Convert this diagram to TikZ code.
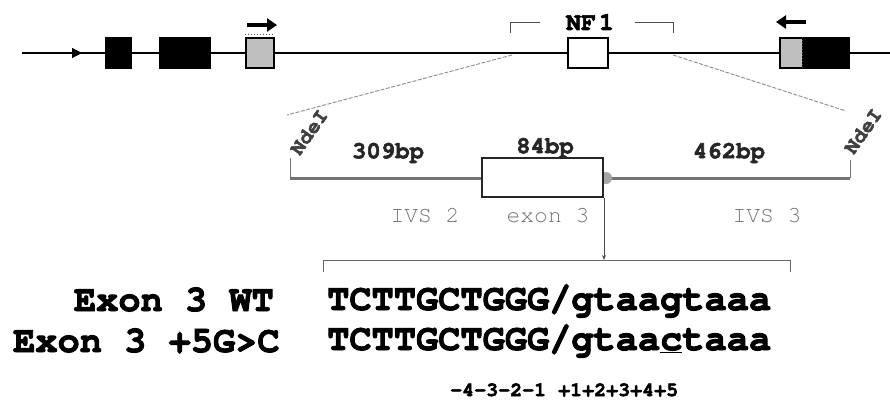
\documentclass[tikz,border=0pt]{standalone}
\usepackage{fontspec}
\usepackage{tikz}
\usetikzlibrary{arrows.meta}
\newfontfamily\seqfont[BoldFeatures={FakeBold=2.5}]{TeX Gyre Cursor}

\begin{document}
\begin{tikzpicture}[x=1pt,y=-1pt,
  exonbox/.style={draw=black,line width=1.5pt,inner sep=0pt,minimum height=30pt},
  primer/.style={line width=3.5pt,-{Triangle[length=10pt,width=13pt]}},
  zoomline/.style={draw=black!45,line width=0.9pt,dash pattern=on 4pt off 1.5pt},
  seq/.style={font=\seqfont\bfseries\fontsize{37}{40}\selectfont,inner sep=0pt},
  sizelab/.style={font=\seqfont\bfseries\fontsize{24}{26}\selectfont,color=black!85,inner sep=0pt},
  regionlab/.style={font=\seqfont\fontsize{23}{25}\selectfont,color=black!55,inner sep=0pt},
  sitelab/.style={font=\seqfont\bfseries\fontsize{21}{23}\selectfont,color=black!75,inner sep=0pt,rotate=55}]
  \useasboundingbox (0,0) rectangle (890,401);

  % genomic line with exons
  \coordinate (g0) at (22,53);
  \coordinate (g1) at (890,53);
  \coordinate (tss) at (82,53);
  \draw[line width=1.3pt] (g0) -- (g1);
  \draw[line width=1.3pt,-{Triangle[length=10pt,width=10pt]}] (g0) -- (tss);

  \node[exonbox,fill=black,minimum width=26] (ex1) at (118.5,53) {};
  \node[exonbox,fill=black,minimum width=50] (ex2) at (185,53) {};
  \node[exonbox,fill=black!25,minimum width=28] (ex2b) at (260,53) {};
  \draw[black!70,dotted,line width=1pt] ([yshift=2.5]ex2b.north west) -- ([yshift=2.5]ex2b.north east);
  \node[exonbox,fill=white,minimum width=40] (ex3) at (588,53) {};
  \node[exonbox,fill=black,minimum width=46,anchor=west] (ex4b) at (802,53) {};
  \node[exonbox,fill=black!25,minimum width=23,anchor=west] (ex4a) at (779,53) {};
  \draw[black!70,dotted,line width=1pt] ([xshift=-1.5]ex4a.north east) -- ([xshift=-1.5]ex4a.south east);

  % primers
  \coordinate (pf0) at (247,25);
  \coordinate (pf1) at (277,25);
  \coordinate (pr0) at (806,22);
  \coordinate (pr1) at (776,22);
  \draw[primer] (pf0) -- (pf1);
  \draw[primer] (pr0) -- (pr1);

  % NF1 bracket
  \node[font=\seqfont\bfseries\fontsize{25}{27}\selectfont,inner sep=0pt] (nf1) at (590,22) {NF\kern3pt1};
  \coordinate (nfl) at (510,33);
  \coordinate (nfr) at (673,33);
  \draw[black!70,line width=0.8pt] (nfl) -- ++(0,-11) -- ++(30,0);
  \draw[black!70,line width=0.8pt] (nfr) -- ++(0,-11) -- ++(-38,0);

  % enlarged exon 3 region
  \coordinate (zl0) at (512,55);
  \coordinate (zl1) at (287,115);
  \coordinate (zr0) at (673,55);
  \coordinate (zr1) at (846,111);
  \draw[zoomline] (zl0) -- (zl1);
  \draw[zoomline] (zr0) -- (zr1);

  \coordinate (m0) at (290,178);
  \coordinate (m1) at (850,178);
  \draw[black!55,line width=3pt] (m0) -- (m1);
  \draw[black!55,line width=1pt] (m0) -- ++(0,-20);
  \draw[black!55,line width=1pt] (m1) -- ++(0,-18);
  \node[circle,fill=black!35,minimum size=12,inner sep=0pt] (donor) at (606,178) {};
  \node[draw=black!85,fill=white,line width=2pt,minimum width=121,minimum height=39,inner sep=0pt] (ex3z) at (542.5,177.5) {};

  \node[sitelab] (nde1) at (309,132) {NdeI};
  \node[sitelab] (nde2) at (863,131) {NdeI};
  \node[sizelab] (len1) at (388,153) {309bp};
  \node[sizelab] (len2) at (545,148) {84bp};
  \node[sizelab] (len3) at (729,153) {462bp};
  \node[regionlab] (ivs2) at (425,216) {IVS 2};
  \node[regionlab] (exlab) at (548,216) {exon 3};
  \node[regionlab] (ivs3) at (767,216) {IVS 3};

  % splice site sequences
  \coordinate (bl) at (323,272);
  \coordinate (br) at (790,272);
  \coordinate (brk) at (605,260);
  \draw[black!60,line width=1pt] (bl) -- ++(0,-12) -| (br);
  \draw[black!70,line width=1pt,-{Stealth[length=5pt,width=4pt]}] (ex3z.south east) -- (ex3z.south east |- brk);

  \node[seq,anchor=base west] (wt) at (327,310) {TCTTGCTGGG/gtaagtaaa};
  \node[seq,anchor=base west] (mut) at (327,350) {TCTTGCTGGG/gtaa\underline{c}taaa};
  \node[seq,anchor=base east] (wtlab) at (274,311) {Exon 3 WT};
  \node[seq,anchor=base west] (mutlab) at (13,352) {Exon 3 +5G>C};
  \node[font=\seqfont\bfseries\fontsize{20}{22}\selectfont,inner sep=0pt,anchor=base west] (pos) at (450,396) {-4-3-2-1 +1+2+3+4+5};
\end{tikzpicture}
\end{document}
